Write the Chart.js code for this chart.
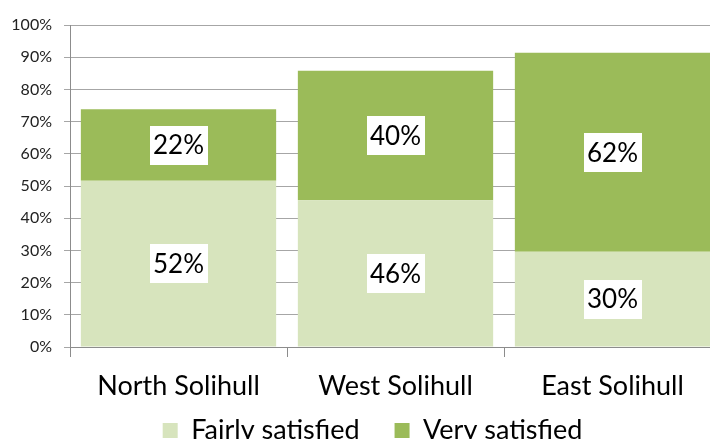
<!DOCTYPE html>
<html><head><meta charset="utf-8">
<script src="https://cdn.jsdelivr.net/npm/chart.js@4/dist/chart.umd.min.js"></script>
<style>
html,body{margin:0;padding:0;overflow:hidden;background:#fff;width:710px;height:439px}
#wrap{position:absolute;left:0;top:0;width:745px;height:480px}
</style></head>
<body><div id="wrap"><canvas id="c" width="745" height="480"></canvas></div>
<script>
const categories = ['North Solihull', 'West Solihull', 'East Solihull'];
const fairlySatisfied = [51.6, 45.6, 29.6];
const verySatisfied = [22.2, 40.2, 61.8];
const seriesNames = ['Fairly satisfied', 'Very satisfied'];
const yTickValues = [0, 10, 20, 30, 40, 50, 60, 70, 80, 90, 100];

const FONT = 'Lato';

const valueLabels = {
  id: 'valueLabels',
  afterDatasetsDraw(chart) {
    const ctx = chart.ctx;
    ctx.save();
    ctx.font = '26px ' + FONT;
    ctx.textAlign = 'center';
    ctx.textBaseline = 'middle';
    chart.data.datasets.forEach((ds, i) => {
      const meta = chart.getDatasetMeta(i);
      meta.data.forEach((bar, j) => {
        const p = bar.getProps(['x', 'y', 'base'], true);
        const cy = (p.y + p.base) / 2;
        const t = Math.round(ds.data[j]) + '%';
        const w = ctx.measureText(t).width + 7;
        const h = 39;
        ctx.fillStyle = '#ffffff';
        ctx.fillRect(Math.round(p.x - w / 2), Math.round(cy - h / 2), Math.round(w), h);
        ctx.fillStyle = '#000000';
        ctx.fillText(t, p.x, cy + 1);
      });
    });
    ctx.restore();
  }
};

// pull the legend up into the space under the axis labels (its top padding is empty)
const legendPlacement = {
  id: 'legendPlacement',
  afterLayout(chart) {
    const lg = chart.legend;
    const h = lg.bottom - lg.top;
    lg.top = chart.scales.x.bottom - 26;
    lg.bottom = lg.top + h;
    lg.left += 12;
    lg.right += 12;
  }
};

new Chart(document.getElementById('c'), {
  type: 'bar',
  data: {
    labels: categories,
    datasets: [
      { label: seriesNames[0], data: fairlySatisfied, backgroundColor: '#d7e4bd', borderWidth: 0 },
      { label: seriesNames[1], data: verySatisfied, backgroundColor: '#9bbb59', borderWidth: 0 }
    ]
  },
  options: {
    responsive: false,
    animation: false,
    events: [],
    datasets: { bar: { barPercentage: 0.9, categoryPercentage: 1.0 } },
    layout: { padding: { top: 25, right: 24, left: 0, bottom: 0 } },
    plugins: {
      tooltip: { enabled: false },
      legend: {
        position: 'bottom',
        labels: {
          boxWidth: 15, boxHeight: 15, padding: 35,
          color: '#000', font: { family: FONT, size: 27 }
        }
      }
    },
    scales: {
      x: {
        stacked: true,
        offset: true,
        grid: { drawOnChartArea: false, tickLength: 10, color: '#8c8c8c', offset: true },
        border: { display: true, color: '#8c8c8c' },
        ticks: { color: '#000', font: { family: FONT, size: 27 }, padding: 13, maxRotation: 0 },
        afterFit(s) { s.height = 61; }
      },
      y: {
        stacked: true,
        min: 0, max: 100,
        afterBuildTicks(s) { s.ticks = yTickValues.map(v => ({ value: v })); },
        grid: { color: '#a6a6a6', tickLength: 6 },
        border: { display: true, color: '#8c8c8c' },
        ticks: { color: '#222', font: { family: FONT, size: 16 }, padding: 12, callback: v => v + '%' },
        afterFit(s) { s.width = 70; }
      }
    }
  },
  plugins: [valueLabels, legendPlacement]
});
</script>
</body></html>
